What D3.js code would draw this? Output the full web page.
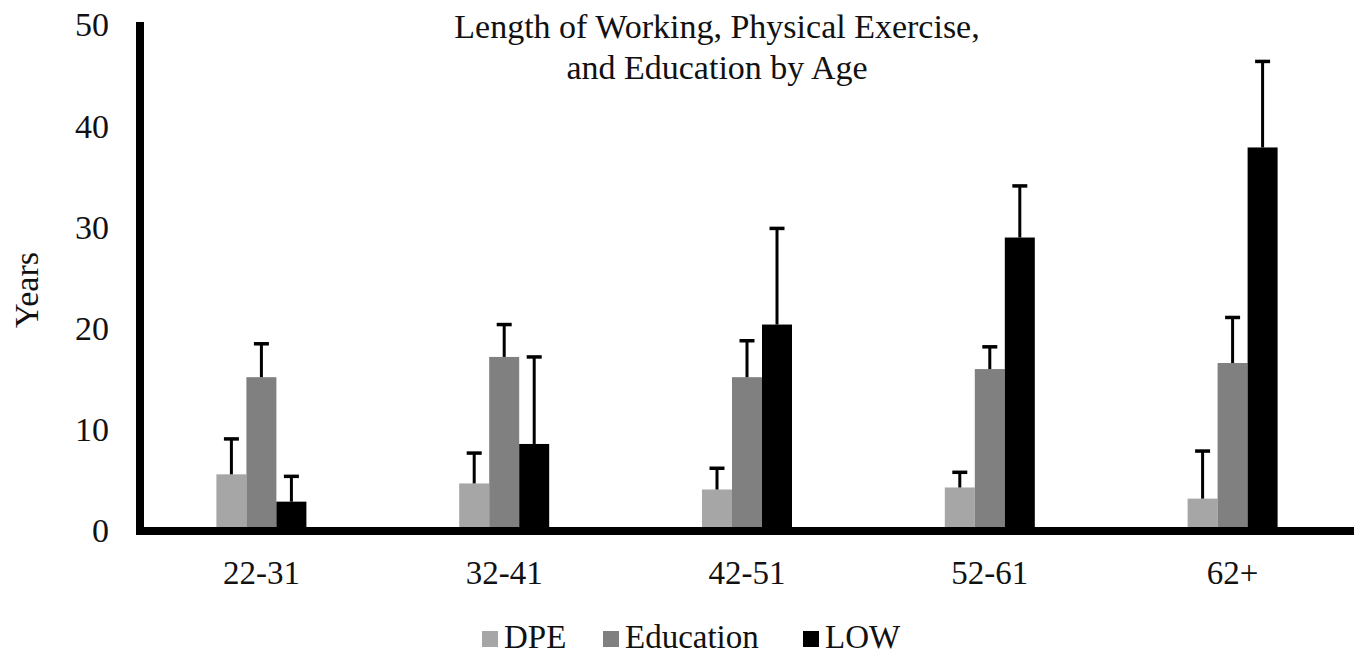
<!DOCTYPE html>
<html>
<head>
<meta charset="utf-8">
<script src="https://cdn.jsdelivr.net/npm/d3@7"></script>
<style>
  html, body { margin: 0; padding: 0; background: #fff; }
  svg { display: block; }
  svg text { font-family: 'Liberation Serif', 'Times New Roman', Times, serif !important; fill: #111; }
</style>
</head>
<body>
<svg id="chart" width="1361" height="656"></svg>
<script>
const categories = ["22-31", "32-41", "42-51", "52-61", "62+"];
const seriesNames = ["DPE", "Education", "LOW"];
const seriesColors = ["#a6a6a6", "#808080", "#000000"];
const dpeValues = [5.6, 4.7, 4.1, 4.3, 3.2];
const dpeErrors = [3.5, 3.0, 2.1, 1.5, 4.7];
const educationValues = [15.2, 17.2, 15.2, 16.0, 16.6];
const educationErrors = [3.3, 3.2, 3.6, 2.2, 4.5];
const lowValues = [2.9, 8.6, 20.4, 29.0, 37.9];
const lowErrors = [2.5, 8.6, 9.5, 5.1, 8.5];
const yTicks = [0, 10, 20, 30, 40, 50];
const titleLines = ["Length of Working, Physical Exercise,", "and Education by Age"];
const yLabel = "Years";

const seriesValues = [dpeValues, educationValues, lowValues];
const seriesErrors = [dpeErrors, educationErrors, lowErrors];

const FONT = "'Liberation Serif', 'Times New Roman', serif";
const svg = d3.select("#chart");

const x0 = d3.scaleBand().domain(categories).range([140, 1354]).paddingInner(0).paddingOuter(0);
const groupWidth = 90;
const x1 = d3.scaleBand().domain(seriesNames).range([0, groupWidth]).padding(0);
const y = d3.scaleLinear().domain([0, 50]).range([531, 25]);

const rows = [];
categories.forEach((c, i) => {
  seriesNames.forEach((s, j) => {
    rows.push({cat: c, series: s, value: seriesValues[j][i], err: seriesErrors[j][i], color: seriesColors[j]});
  });
});

const gx = c => x0(c) + (x0.bandwidth() - groupWidth) / 2;

svg.append("g").selectAll("rect").data(rows).join("rect")
  .attr("x", d => gx(d.cat) + x1(d.series))
  .attr("y", d => y(d.value))
  .attr("width", x1.bandwidth())
  .attr("height", d => y(0) - y(d.value))
  .attr("fill", d => d.color);

const eb = svg.append("g").attr("stroke", "#000");
eb.selectAll("line.v").data(rows).join("line").attr("class", "v")
  .attr("x1", d => gx(d.cat) + x1(d.series) + x1.bandwidth() / 2)
  .attr("x2", d => gx(d.cat) + x1(d.series) + x1.bandwidth() / 2)
  .attr("y1", d => y(d.value))
  .attr("y2", d => y(d.value + d.err))
  .attr("stroke-width", 3);
eb.selectAll("line.c").data(rows).join("line").attr("class", "c")
  .attr("x1", d => gx(d.cat) + x1(d.series) + x1.bandwidth() / 2 - 7.5)
  .attr("x2", d => gx(d.cat) + x1(d.series) + x1.bandwidth() / 2 + 7.5)
  .attr("y1", d => y(d.value + d.err))
  .attr("y2", d => y(d.value + d.err))
  .attr("stroke-width", 3.5);

const yAxis = d3.axisLeft(y).tickValues(yTicks).tickSize(0).tickPadding(31).tickFormat(d3.format("d"));
const gy = svg.append("g").attr("transform", "translate(140,0)").call(yAxis);
gy.attr("font-family", FONT);
gy.select(".domain").remove();
gy.selectAll("text").attr("font-size", 34).style("font-family", FONT).attr("fill", "#111");

svg.append("line")
  .attr("x1", 140).attr("x2", 140)
  .attr("y1", y(50) - 3).attr("y2", y(0) + 4)
  .attr("stroke", "#000").attr("stroke-width", 8);

const xAxis = d3.axisBottom(x0).tickSize(0).tickPadding(30);
const gxAxis = svg.append("g").attr("transform", `translate(0,${y(0)})`).call(xAxis);
gxAxis.attr("font-family", FONT);
gxAxis.select(".domain").remove();
gxAxis.selectAll("text").attr("font-size", 33).style("font-family", FONT).attr("fill", "#111");

svg.append("line")
  .attr("x1", 136).attr("x2", 1354)
  .attr("y1", y(0)).attr("y2", y(0))
  .attr("stroke", "#000").attr("stroke-width", 8);

svg.append("text")
  .attr("x", 717).attr("y", 38)
  .attr("text-anchor", "middle").attr("font-size", 34)
  .style("font-family", FONT)
  .selectAll("tspan").data(titleLines).join("tspan")
  .attr("x", 717).attr("dy", (d, i) => i === 0 ? 0 : 41)
  .text(d => d);

svg.append("text")
  .attr("transform", "translate(38,290) rotate(-90)")
  .attr("text-anchor", "middle").attr("font-size", 34)
  .style("font-family", FONT)
  .text(yLabel);

const legendItems = [
  {name: seriesNames[0], color: seriesColors[0], x: 482},
  {name: seriesNames[1], color: seriesColors[1], x: 603},
  {name: seriesNames[2], color: seriesColors[2], x: 803}
];
const lg = svg.append("g");
lg.selectAll("rect").data(legendItems).join("rect")
  .attr("x", d => d.x).attr("y", 631).attr("width", 16).attr("height", 16)
  .attr("fill", d => d.color);
lg.selectAll("text").data(legendItems).join("text")
  .attr("x", d => d.x + 22).attr("y", 648)
  .attr("font-size", 33)
  .style("font-family", FONT)
  .text(d => d.name);
</script>
</body>
</html>
